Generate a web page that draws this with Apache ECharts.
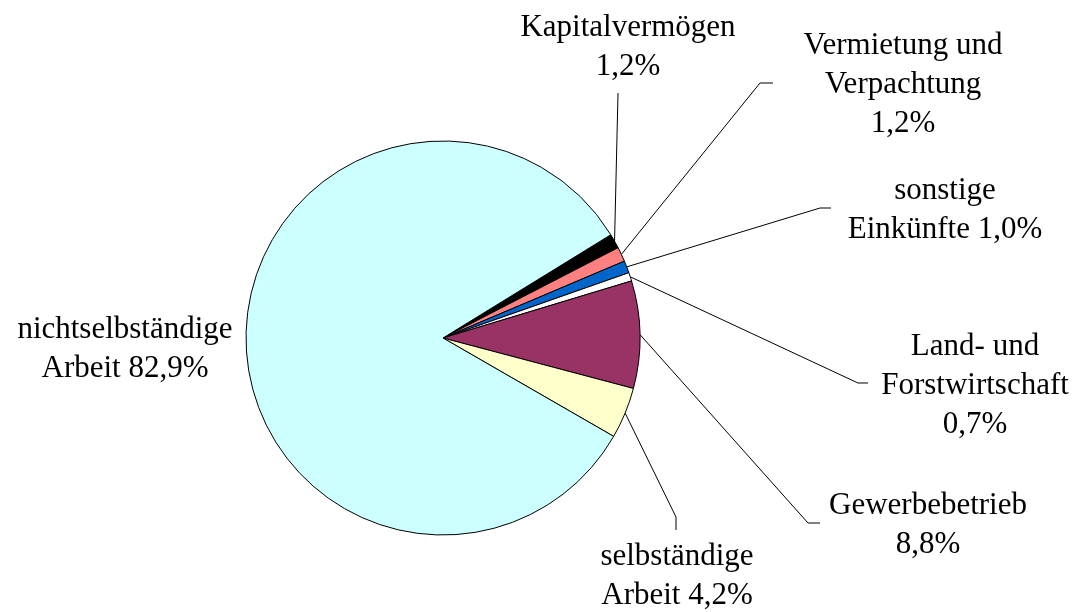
<!DOCTYPE html>
<html>
<head>
    <meta charset="UTF-8">
    <script type="text/javascript" src="https://cdn.jsdelivr.net/npm/echarts@6/dist/echarts.min.js"></script>
</head>
<body style="margin: 0;padding: 0;background: #fff;">
<div id="main" style="width: 1079px;height:612px;"></div>
<script>
    // Kategorien (im Uhrzeigersinn ab dem schwarzen Segment)
    var names = ['Kapitalvermögen', 'Vermietung und\nVerpachtung', 'sonstige\nEinkünfte',
        'Land- und\nForstwirtschaft', 'Gewerbebetrieb', 'selbständige\nArbeit', 'nichtselbständige\nArbeit']
    var values = [1.2, 1.2, 1.0, 0.7, 8.8, 4.2, 82.9]
    var joiners = ['\n', '\n', ' ', '\n', '\n', ' ', ' ']
    var colors = ['#000000', '#FF8080', '#0066CC', '#FFFFFF', '#993366', '#FFFFCC', '#CCFFFF']

    // Label-Positionen (Mittelpunkt des Textblocks) und Knick/Ende der Linie
    var labelPos = [[628, 47], [903, 85], [945, 210], [975, 386], [928, 525], [677, 576], [125, 349]]
    var lineEnds = [
        [[618, 93], [618, 93]],
        [[760, 83], [773, 83]],
        [[820, 208], [831, 208]],
        [[858, 383], [868, 383]],
        [[808, 523], [820, 523]],
        [[676, 517], [676, 530]],
        null
    ]

    var chart = echarts.init(document.getElementById('main'));
    var data = []
    for (var i = 0; i < names.length; i++) {
        data.push({
            name: names[i],
            value: values[i],
            itemStyle: {color: colors[i]},
            labelLine: {show: lineEnds[i] !== null}
        })
    }

    var option = {
        animation: false,
        series: [{
            type: 'pie',
            center: [443, 338],
            radius: 197,
            startAngle: 31.6,
            clockwise: true,
            avoidLabelOverlap: false,
            data: data,
            itemStyle: {borderColor: '#000', borderWidth: 1},
            emphasis: {disabled: true},
            label: {
                show: true,
                position: 'outside',
                fontFamily: 'Liberation Serif',
                fontSize: 31,
                lineHeight: 39,
                color: '#000',
                align: 'center',
                formatter: function (p) {
                    return p.name + joiners[p.dataIndex] + p.value.toFixed(1).replace('.', ',') + '%'
                }
            },
            labelLine: {
                show: true,
                length: 20,
                length2: 10,
                smooth: false,
                lineStyle: {color: '#000', width: 1}
            },
            labelLayout: function (params) {
                var i = params.dataIndex
                var res = {
                    x: labelPos[i][0],
                    y: labelPos[i][1],
                    align: 'center',
                    verticalAlign: 'middle'
                }
                if (lineEnds[i] && params.labelLinePoints) {
                    res.labelLinePoints = [params.labelLinePoints[0], lineEnds[i][0], lineEnds[i][1]]
                }
                return res
            }
        }]
    };
    chart.setOption(option);
</script>
</body>
</html>
